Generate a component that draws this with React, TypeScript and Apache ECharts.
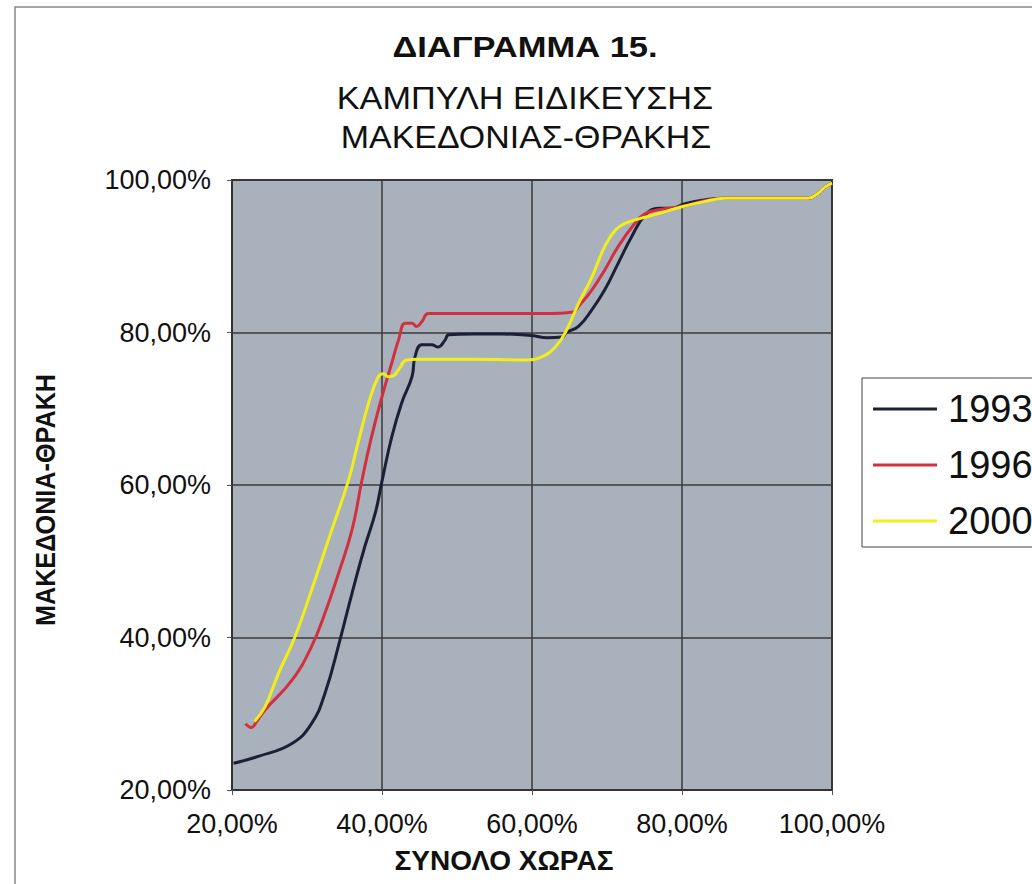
import React, { useEffect, useRef } from "react";
import * as echarts from "echarts";

const FONT = '"Liberation Sans", Arial, sans-serif';

const seriesNames = ["1993", "1996", "2000"];
const seriesColors = ["#1b2036", "#d2303f", "#f2ee1a"];

const x1993 = [20.2, 23.5, 28.0, 30.6, 32.4, 34.4, 36.0, 37.7, 39.1, 40.0, 41.3, 42.6, 44.0, 44.4, 45.3, 46.6, 47.5, 48.4, 48.9, 52, 56, 60, 62, 64, 64.6, 66.2, 68.0, 69.7, 71.5, 73.3, 75.1, 76.9, 78.6, 80.4, 83.1, 85.7, 96.8, 98.2, 99.1, 100];
const y1993 = [23.5, 24.4, 26.1, 28.7, 32.7, 39.7, 45.8, 51.9, 56.3, 60.5, 66.3, 70.7, 74.2, 76.8, 78.4, 78.4, 78.1, 79.0, 79.7, 79.8, 79.8, 79.6, 79.3, 79.4, 80.0, 80.8, 83.0, 85.6, 89.1, 92.6, 95.4, 96.3, 96.3, 96.9, 97.4, 97.6, 97.6, 98.3, 99.1, 99.6];

const x1996 = [21.8, 22.6, 23.3, 24.4, 28.0, 30.6, 32.4, 34.2, 36.0, 37.3, 38.6, 40.0, 41.3, 42.2, 43.1, 44.0, 44.6, 45.3, 46.2, 55, 61.7, 65.5, 66.2, 68.0, 69.7, 71.5, 73.7, 75.1, 76.9, 80.4, 83.1, 85.7, 96.8, 98.2, 99.1, 100];
const y1996 = [28.7, 28.2, 29.0, 30.5, 34.4, 38.8, 43.2, 48.4, 54.1, 60.5, 66.3, 71.6, 76.0, 79.0, 81.2, 81.2, 80.8, 81.4, 82.5, 82.5, 82.5, 82.7, 83.4, 85.6, 88.2, 91.3, 94.3, 95.6, 96.1, 96.6, 97.3, 97.6, 97.6, 98.3, 99.1, 99.6];

const x2000 = [23.0, 24.4, 26.2, 28.4, 30.6, 33.3, 35.5, 36.8, 38.2, 39.5, 40.2, 40.8, 41.5, 42.2, 43.3, 44.8, 52, 59.1, 61.3, 63.1, 64.4, 66.2, 68.0, 69.7, 71.1, 72.4, 74.6, 76.9, 80.0, 83.1, 85.7, 96.8, 98.2, 99.1, 100];
const y2000 = [29.0, 30.9, 35.3, 40.1, 46.2, 54.1, 60.5, 65.5, 70.7, 74.2, 74.6, 74.2, 74.3, 75.1, 76.4, 76.5, 76.5, 76.4, 76.8, 78.1, 79.9, 83.8, 87.3, 91.3, 93.4, 94.3, 95.0, 95.6, 96.5, 97.2, 97.6, 97.6, 98.3, 99.1, 99.6];

const axisTicks = [20, 40, 60, 80, 100];

const titleLines = ["ΔΙΑΓΡΑΜΜΑ 15.", "ΚΑΜΠΥΛΗ ΕΙΔΙΚΕΥΣΗΣ", "ΜΑΚΕΔΟΝΙΑΣ-ΘΡΑΚΗΣ"];
const xAxisName = "ΣΥΝΟΛΟ ΧΩΡΑΣ";
const yAxisName = "ΜΑΚΕΔΟΝΙΑ-ΘΡΑΚΗ";

const fmt = (v: number) => v.toFixed(2).replace(".", ",") + "%";

const zip = (xs: number[], ys: number[]) => xs.map((x, i) => [x, ys[i]]);

export default function App() {
  const ref = useRef<HTMLDivElement>(null);
  useEffect(() => {
    if (!ref.current) return;
    const chart = echarts.init(ref.current, null, { renderer: "svg" });
    const xsAll = [x1993, x1996, x2000];
    const ysAll = [y1993, y1996, y2000];
    const textStyle = (text: string, font: string) => ({
      text,
      font,
      fill: "#111",
      align: "center",
      verticalAlign: "middle",
      textAlign: "center",
      textVerticalAlign: "middle",
    });
    chart.setOption({
      animation: false,
      backgroundColor: "#ffffff",
      grid: {
        left: 232,
        right: 200,
        top: 180,
        bottom: 94,
        show: true,
        backgroundColor: "#a9b1bc",
        borderColor: "#333",
        borderWidth: 2,
      },
      xAxis: {
        type: "value",
        min: axisTicks[0],
        max: axisTicks[axisTicks.length - 1],
        interval: 20,
        axisLine: { show: true, lineStyle: { color: "#333", width: 2 } },
        axisTick: { show: true, length: 5, lineStyle: { color: "#555" } },
        splitLine: { show: true, lineStyle: { color: "#3a3a3a", width: 1.5 } },
        axisLabel: {
          formatter: fmt,
          fontSize: 27,
          fontFamily: FONT,
          color: "#111",
          margin: 20,
        },
      },
      yAxis: {
        type: "value",
        min: axisTicks[0],
        max: axisTicks[axisTicks.length - 1],
        interval: 20,
        axisLine: { show: true, lineStyle: { color: "#333", width: 2 } },
        axisTick: { show: true, length: 5, lineStyle: { color: "#555" } },
        splitLine: { show: true, lineStyle: { color: "#3a3a3a", width: 1.5 } },
        axisLabel: {
          formatter: fmt,
          fontSize: 27,
          fontFamily: FONT,
          color: "#111",
          margin: 21,
        },
      },
      legend: {
        data: seriesNames,
        orient: "vertical",
        left: 862,
        top: 378,
        padding: [11, 140, 6, 11],
        itemGap: 16,
        itemWidth: 64,
        itemHeight: 3,
        icon: "rect",
        backgroundColor: "#ffffff",
        borderColor: "#444",
        borderWidth: 1,
        textStyle: {
          fontSize: 38,
          fontFamily: FONT,
          color: "#111",
          lineHeight: 40,
          padding: [0, 0, 0, 6],
        },
      },
      series: seriesNames.map((name, i) => ({
        name,
        type: "line",
        data: zip(xsAll[i], ysAll[i]),
        showSymbol: false,
        symbol: "none",
        smooth: 0.45,
        color: seriesColors[i],
        lineStyle: { color: seriesColors[i], width: 3 },
        z: 2 + i,
      })),
      graphic: [
        {
          type: "rect",
          shape: { x: 15, y: 7, width: 1100, height: 1000 },
          style: { fill: "none", stroke: "#888", lineWidth: 1.5 },
          z: -10,
          silent: true,
        },
        {
          type: "text",
          x: 525,
          y: 47,
          scaleX: 1.15,
          style: textStyle(titleLines[0], `bold 30px ${FONT}`),
          z: 10,
        },
        {
          type: "text",
          x: 525,
          y: 98,
          scaleX: 1.07,
          style: textStyle(titleLines[1], `32px ${FONT}`),
          z: 10,
        },
        {
          type: "text",
          x: 526,
          y: 137,
          scaleX: 1.06,
          style: textStyle(titleLines[2], `32px ${FONT}`),
          z: 10,
        },
        {
          type: "text",
          x: 504,
          y: 860,
          style: textStyle(xAxisName, `bold 28px ${FONT}`),
          z: 10,
        },
        {
          type: "text",
          x: 46,
          y: 500,
          rotation: Math.PI / 2,
          scaleX: 0.9,
          style: textStyle(yAxisName, `bold 28px ${FONT}`),
          z: 10,
        },
      ],
    });
    return () => chart.dispose();
  }, []);
  return (
    <div
      ref={ref}
      style={{ position: "fixed", left: 0, top: 0, width: 1032, height: 884 }}
    />
  );
}
